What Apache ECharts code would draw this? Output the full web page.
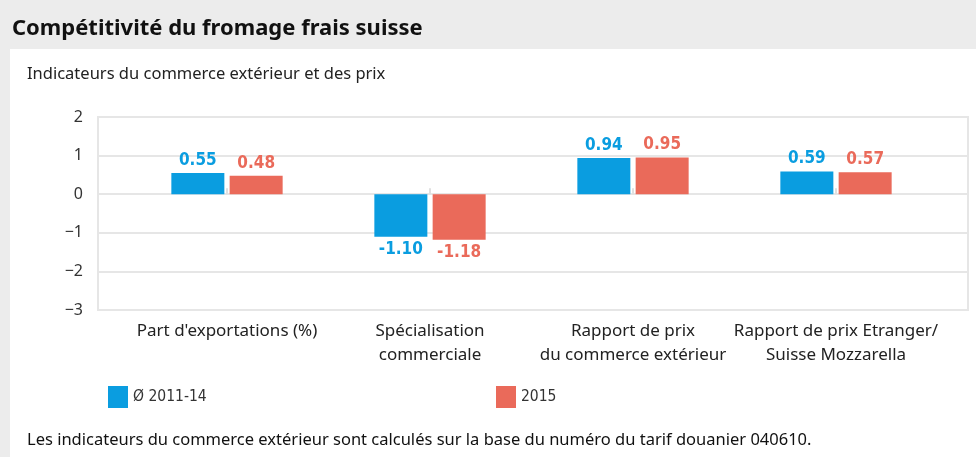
<!DOCTYPE html>
<html>
<head>
<meta charset="utf-8">
<script src="https://cdn.jsdelivr.net/npm/echarts@6/dist/echarts.min.js"></script>
<style>
  html, body { margin: 0; padding: 0; background: #ececec; }
  #main { width: 976px; height: 457px; }
</style>
</head>
<body>
<div id="main"></div>
<script>
var categories = ['Part d\'exportations (%)', 'Spécialisation\ncommerciale', 'Rapport de prix\ndu commerce extérieur', 'Rapport de prix Etranger/\nSuisse Mozzarella'];
var avg2011_14 = [0.55, -1.10, 0.94, 0.59];
var year2015 = [0.48, -1.18, 0.95, 0.57];
var seriesNames = ['Ø 2011-14', '2015'];
var yTicks = [-3, 2, 1];   // min, max, interval

var blue = '#0a9de0';
var red = '#ea6a5a';
var txtFont = 'Noto Sans';
var numFont = 'DejaVu Sans Condensed';

var myChart = echarts.init(document.getElementById('main'));

function labelFor(color) {
    return {
        show: true,
        color: color,
        fontFamily: numFont,
        fontWeight: 'bold',
        fontSize: 17,
        distance: 4,
        position: 'top',
        formatter: function (p) { return p.value.toFixed(2); }
    };
}

function barData(values) {
    // negative bars get their label under the bar
    return values.map(function (v) {
        return v < 0 ? { value: v, label: { position: 'bottom' } } : v;
    });
}

myChart.setOption({
    backgroundColor: '#ececec',
    animation: false,
    graphic: [
        { type: 'rect', left: 10, top: 49, shape: { width: 966, height: 408 }, style: { fill: '#ffffff' }, z: -10 }
    ],
    title: [
        { text: 'Compétitivité du fromage frais suisse', left: 7, top: 13,
          textStyle: { fontFamily: txtFont, fontWeight: 'bold', fontSize: 22, color: '#111' } },
        { text: 'Indicateurs du commerce extérieur et des prix', left: 22, top: 61,
          textStyle: { fontFamily: txtFont, fontWeight: 'normal', fontSize: 16.5, color: '#222' } },
        { text: 'Les indicateurs du commerce extérieur sont calculés sur la base du numéro du tarif douanier 040610.', left: 22, top: 427,
          textStyle: { fontFamily: txtFont, fontWeight: 'normal', fontSize: 16.5, color: '#111' } }
    ],
    legend: [
        { data: [seriesNames[0]], left: 103, top: 381, itemWidth: 20, itemHeight: 22, icon: 'rect',
          textStyle: { fontFamily: numFont, fontSize: 15.5, color: '#333' } },
        { data: [seriesNames[1]], left: 491, top: 381, itemWidth: 20, itemHeight: 22, icon: 'rect',
          textStyle: { fontFamily: numFont, fontSize: 15.5, color: '#333' } }
    ],
    grid: [
        { left: 98, right: 8, top: 117, bottom: 147, show: true, borderColor: '#e6e6e6', borderWidth: 2 },
        { left: 125.5, width: 812, top: 117, bottom: 147 }
    ],
    xAxis: [
        { gridIndex: 0, type: 'value', show: false, min: 0, max: 1 },
        {
            gridIndex: 1,
            type: 'category',
            data: categories,
            position: 'bottom',
            axisLine: { show: false },
            axisTick: { show: true, alignWithLabel: true, length: 6, inside: true, lineStyle: { color: '#e0e0e0', width: 2 } },
            axisLabel: { interval: 0, margin: 9, lineHeight: 24, fontFamily: txtFont, fontSize: 17, color: '#222' }
        }
    ],
    yAxis: [
        {
            gridIndex: 0,
            type: 'value',
            min: yTicks[0], max: yTicks[1], interval: yTicks[2],
            axisLine: { show: false },
            axisTick: { show: false },
            splitLine: { lineStyle: { color: '#e6e6e6', width: 2 } },
            axisLabel: {
                margin: 15, fontFamily: txtFont, fontSize: 16, color: '#333',
                formatter: function (v) { return String(v).replace('-', '\u2212'); }
            }
        },
        { gridIndex: 1, type: 'value', show: false, min: yTicks[0], max: yTicks[1], interval: yTicks[2], splitLine: { show: false } }
    ],
    series: [
        {
            name: seriesNames[0], type: 'bar', xAxisIndex: 1, yAxisIndex: 1,
            barWidth: 53, barGap: '10%',
            itemStyle: { color: blue },
            label: labelFor(blue),
            data: barData(avg2011_14)
        },
        {
            name: seriesNames[1], type: 'bar', xAxisIndex: 1, yAxisIndex: 1,
            barWidth: 53, barGap: '10%',
            itemStyle: { color: red },
            label: labelFor(red),
            data: barData(year2015)
        }
    ]
});
</script>
</body>
</html>
